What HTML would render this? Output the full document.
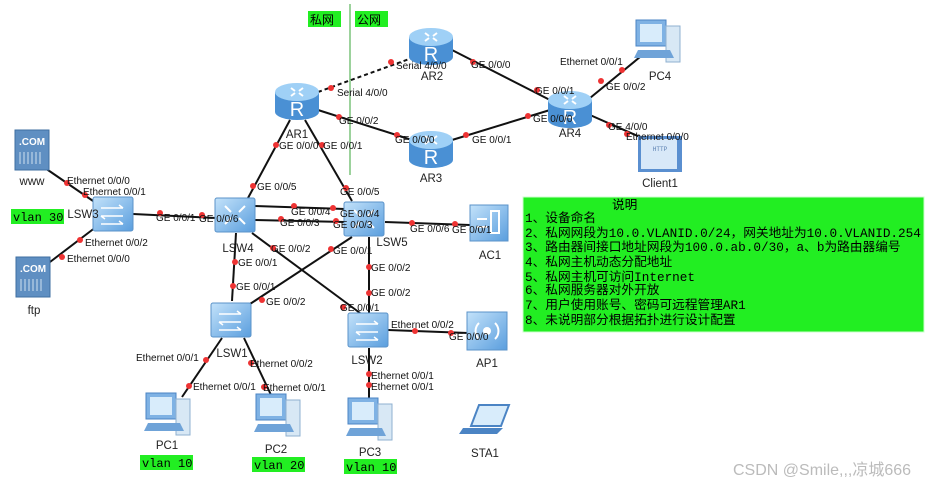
<!DOCTYPE html>
<html><head><meta charset="utf-8"><style>
html,body{margin:0;padding:0;background:#fff;}
svg{display:block;}
.l{font-family:"Liberation Sans",sans-serif;font-size:10px;fill:#111;}
.n{font-family:"Liberation Sans",sans-serif;font-size:11.5px;fill:#222;}
.m{font-family:"Liberation Mono","Noto Sans CJK SC",monospace;font-size:12px;fill:#000;}
.mn{font-family:"Liberation Mono","Noto Sans CJK SC",monospace;font-size:12.7px;fill:#000;}
</style></head><body>
<svg width="931" height="484" viewBox="0 0 931 484" xmlns="http://www.w3.org/2000/svg">
<defs>
<linearGradient id="sg" x1="0" y1="0" x2="1" y2="1"><stop offset="0" stop-color="#c3e2fa"/><stop offset="1" stop-color="#5a9ede"/></linearGradient>
<g id="router">
<path d="M-22,-8 L-22,12 A22,8 0 0 0 22,12 L22,-8 Z" fill="#4a90d4"/>
<ellipse cx="0" cy="-8" rx="22" ry="9" fill="#9fd0f6"/>
<text x="0" y="16" text-anchor="middle" font-family="Liberation Sans" font-size="20" fill="#fff">R</text>
<path d="M-6,-12 l4,3 M6,-12 l-4,3 M-6,-4 l4,-3 M6,-4 l-4,-3" stroke="#fff" stroke-width="2"/>
</g>
<g id="sw">
<rect x="-20" y="-17" width="40" height="34" rx="2" fill="url(#sg)" stroke="#5b93c9"/>
<path d="M-12,-6 h22 M10,-6 l-4,-3 M-12,2 h22 M-12,2 l4,3 M-12,10 h22 M10,10 l-4,-3" stroke="#fff" stroke-width="1.5" fill="none"/>
</g>
<g id="csw">
<rect x="-20" y="-17" width="40" height="34" rx="2" fill="url(#sg)" stroke="#5b93c9"/>
<path d="M-10,-9 l6,6 M10,-9 l-6,6 M-10,9 l6,-6 M10,9 l-6,-6" stroke="#fff" stroke-width="2"/>
</g>
<g id="pc">
<rect x="-24" y="-22" width="30" height="26" fill="#7fb2e4" stroke="#4b84c4"/>
<rect x="-20" y="-18" width="22" height="18" fill="#d8ecfb"/>
<rect x="6" y="-16" width="14" height="36" fill="#d8e8f5" stroke="#8fb0d0"/>
<path d="M-26,16 L14,16 L10,8 L-22,8 Z" fill="#6fa3d8"/>
</g>
<g id="srv">
<rect x="-17" y="-20" width="34" height="40" fill="#5f8fc2" stroke="#3f6fa2"/>
<text x="0" y="-5" text-anchor="middle" font-family="Liberation Sans" font-weight="bold" font-size="10" fill="#fff">.COM</text>
<path d="M-12,2 v12 M-8,2 v12 M-4,2 v12 M0,2 v12 M4,2 v12 M8,2 v12" stroke="#cfe0f0"/>
</g>
</defs>

<line x1="350" y1="4" x2="350" y2="175" stroke="#3aa53a" stroke-width="1"/>
<rect x="308" y="11" width="33" height="16" fill="#22ee22"/>
<text x="310" y="24" font-family="Noto Sans CJK SC,sans-serif" font-size="12">私网</text>
<rect x="355" y="11" width="33" height="16" fill="#22ee22"/>
<text x="357" y="24" font-family="Noto Sans CJK SC,sans-serif" font-size="12">公网</text>

<g stroke="#111" stroke-width="2" fill="none">
<line x1="318" y1="92" x2="412" y2="58" stroke-dasharray="4,3"/>
<line x1="318" y1="110" x2="412" y2="140"/>
<line x1="452" y1="50" x2="550" y2="100"/>
<line x1="452" y1="140" x2="550" y2="110"/>
<line x1="590" y1="98" x2="640" y2="57"/>
<line x1="590" y1="115" x2="640" y2="137"/>
<line x1="290" y1="120" x2="248" y2="198"/>
<line x1="305" y1="120" x2="352" y2="201"/>
<line x1="45" y1="168" x2="96" y2="203"/>
<line x1="50" y1="262" x2="96" y2="227"/>
<line x1="133" y1="214" x2="216" y2="218"/>
<line x1="255" y1="206" x2="345" y2="209"/>
<line x1="255" y1="220" x2="345" y2="222"/>
<line x1="385" y1="222" x2="470" y2="225"/>
<line x1="236" y1="233" x2="232" y2="301"/>
<line x1="252" y1="233" x2="360" y2="313"/>
<line x1="352" y1="237" x2="250" y2="304"/>
<line x1="369" y1="237" x2="369" y2="313"/>
<line x1="222" y1="338" x2="182" y2="397"/>
<line x1="244" y1="338" x2="272" y2="397"/>
<line x1="369" y1="348" x2="369" y2="400"/>
<line x1="388" y1="330" x2="468" y2="333"/>
</g>
<g fill="#ee3333">
<circle cx="331" cy="88" r="3"/><circle cx="391" cy="62" r="3"/>
<circle cx="339" cy="117" r="3"/><circle cx="397" cy="135" r="3"/>
<circle cx="473" cy="62" r="3"/><circle cx="537" cy="90" r="3"/>
<circle cx="466" cy="135" r="3"/><circle cx="528" cy="116" r="3"/>
<circle cx="601" cy="81" r="3"/><circle cx="622" cy="70" r="3"/>
<circle cx="609" cy="125" r="3"/><circle cx="627" cy="134" r="3"/>
<circle cx="276" cy="145" r="3"/><circle cx="322" cy="145" r="3"/>
<circle cx="253" cy="186" r="3"/><circle cx="346" cy="188" r="3"/>
<circle cx="67" cy="183" r="3"/><circle cx="85" cy="195" r="3"/>
<circle cx="80" cy="240" r="3"/><circle cx="62" cy="257" r="3"/>
<circle cx="160" cy="213" r="3"/><circle cx="202" cy="215" r="3"/>
<circle cx="294" cy="206" r="3"/><circle cx="333" cy="208" r="3"/>
<circle cx="281" cy="219" r="3"/><circle cx="336" cy="221" r="3"/>
<circle cx="412" cy="223" r="3"/><circle cx="455" cy="224" r="3"/>
<circle cx="235" cy="262" r="3"/><circle cx="233" cy="286" r="3"/>
<circle cx="273" cy="248" r="3"/><circle cx="343" cy="307" r="3"/>
<circle cx="331" cy="249" r="3"/><circle cx="262" cy="300" r="3"/>
<circle cx="369" cy="267" r="3"/><circle cx="369" cy="293" r="3"/>
<circle cx="206" cy="360" r="3"/><circle cx="189" cy="386" r="3"/>
<circle cx="251" cy="363" r="3"/><circle cx="264" cy="387" r="3"/>
<circle cx="369" cy="374" r="3"/><circle cx="369" cy="385" r="3"/>
<circle cx="415" cy="331" r="3"/><circle cx="451" cy="333" r="3"/>
</g>

<use href="#router" x="297" y="100"/>
<use href="#router" x="431" y="45"/>
<use href="#router" x="431" y="148"/>
<use href="#router" x="570" y="108"/>
<use href="#pc" x="660" y="42"/>
<g transform="translate(660,154)"><path d="M-22,-18 L22,-18 L22,18 L-22,18 Z" fill="#5a8fd0"/><rect x="-19" y="-15" width="36" height="30" fill="#d8e8f8"/><text x="0" y="-3" text-anchor="middle" font-family="Liberation Mono" font-size="6" fill="#5a7fb0">HTTP</text></g>
<use href="#srv" x="32" y="150"/>
<use href="#srv" x="33" y="277"/>
<use href="#sw" x="113" y="214"/>
<use href="#csw" x="235" y="215"/>
<use href="#csw" x="364" y="219"/>
<g transform="translate(489,223)"><rect x="-19" y="-18" width="38" height="36" fill="url(#sg)" stroke="#5b93c9"/><rect x="2" y="-12" width="8" height="22" fill="none" stroke="#fff" stroke-width="2"/><path d="M-12,-4 h10 M-12,4 h10" stroke="#fff" stroke-width="2"/></g>
<use href="#sw" x="231" y="320"/>
<use href="#sw" x="368" y="330"/>
<g transform="translate(487,331)"><rect x="-20" y="-19" width="40" height="38" fill="url(#sg)" stroke="#5b93c9"/><circle cx="0" cy="0" r="4" fill="#fff"/><path d="M-8,-8 a11,11 0 0 0 0,16 M8,-8 a11,11 0 0 1 0,16" stroke="#fff" stroke-width="2" fill="none"/></g>
<use href="#pc" x="170" y="415"/>
<use href="#pc" x="280" y="416"/>
<use href="#pc" x="372" y="420"/>
<g transform="translate(485,420)"><path d="M-6,-15 L24,-15 L16,6 L-14,6 Z" fill="#d8ecfb" stroke="#4b84c4" stroke-width="2"/><path d="M-22,8 L18,8 L12,14 L-26,14 Z" fill="#4b84c4"/></g>

<g class="n" text-anchor="middle">
<text x="297" y="138">AR1</text><text x="432" y="80">AR2</text><text x="431" y="182">AR3</text><text x="570" y="137">AR4</text>
<text x="660" y="80">PC4</text><text x="660" y="187">Client1</text>
<text x="32" y="185">www</text><text x="34" y="314">ftp</text>
<text x="83" y="218">LSW3</text><text x="238" y="252">LSW4</text><text x="392" y="246">LSW5</text><text x="490" y="259">AC1</text>
<text x="232" y="357">LSW1</text><text x="367" y="364">LSW2</text><text x="487" y="367">AP1</text>
<text x="167" y="449">PC1</text><text x="276" y="453">PC2</text><text x="370" y="456">PC3</text><text x="485" y="457">STA1</text>
</g>

<g class="l">
<text x="337" y="96">Serial 4/0/0</text><text x="396" y="69">Serial 4/0/0</text>
<text x="339" y="124">GE 0/0/2</text><text x="395" y="143">GE 0/0/0</text>
<text x="471" y="68">GE 0/0/0</text><text x="535" y="94">GE 0/0/1</text>
<text x="472" y="143">GE 0/0/1</text><text x="533" y="122">GE 0/0/0</text>
<text x="560" y="65">Ethernet 0/0/1</text><text x="606" y="90">GE 0/0/2</text>
<text x="608" y="130">GE 4/0/0</text><text x="626" y="140">Ethernet 0/0/0</text>
<text x="279" y="149">GE 0/0/0</text><text x="323" y="149">GE 0/0/1</text>
<text x="257" y="190">GE 0/0/5</text><text x="340" y="195">GE 0/0/5</text>
<text x="67" y="184">Ethernet 0/0/0</text><text x="83" y="195">Ethernet 0/0/1</text>
<text x="85" y="246">Ethernet 0/0/2</text><text x="67" y="262">Ethernet 0/0/0</text>
<text x="156" y="221">GE 0/0/1</text><text x="199" y="222">GE 0/0/6</text>
<text x="291" y="215">GE 0/0/4</text><text x="340" y="217">GE 0/0/4</text>
<text x="280" y="226">GE 0/0/3</text><text x="333" y="228">GE 0/0/3</text>
<text x="410" y="232">GE 0/0/6</text><text x="452" y="233">GE 0/0/1</text>
<text x="238" y="266">GE 0/0/1</text><text x="236" y="290">GE 0/0/1</text>
<text x="271" y="252">GE 0/0/2</text><text x="333" y="254">GE 0/0/1</text>
<text x="266" y="305">GE 0/0/2</text><text x="340" y="311">GE 0/0/1</text>
<text x="371" y="271">GE 0/0/2</text><text x="371" y="296">GE 0/0/2</text>
<text x="136" y="361">Ethernet 0/0/1</text><text x="193" y="390">Ethernet 0/0/1</text>
<text x="250" y="367">Ethernet 0/0/2</text><text x="263" y="391">Ethernet 0/0/1</text>
<text x="371" y="379">Ethernet 0/0/1</text><text x="371" y="390">Ethernet 0/0/1</text>
<text x="391" y="328">Ethernet 0/0/2</text><text x="449" y="340">GE 0/0/0</text>
</g>

<g>
<rect x="11" y="209" width="53" height="15" fill="#22ee22"/><text class="m" x="13" y="221">vlan 30</text>
<rect x="140" y="455" width="53" height="15" fill="#22ee22"/><text class="m" x="142" y="467">vlan 10</text>
<rect x="252" y="457" width="53" height="15" fill="#22ee22"/><text class="m" x="254" y="469">vlan 20</text>
<rect x="344" y="459" width="53" height="15" fill="#22ee22"/><text class="m" x="346" y="471">vlan 10</text>
</g>

<rect x="523" y="197" width="401" height="135" fill="#22ee22" stroke="#cfc" />
<g class="mn">
<text x="612" y="209">说明</text>
<text x="525" y="222">1、设备命名</text>
<text x="525" y="237">2、私网网段为10.0.VLANID.0/24，网关地址为10.0.VLANID.254</text>
<text x="525" y="251">3、路由器间接口地址网段为100.0.ab.0/30，a、b为路由器编号</text>
<text x="525" y="266">4、私网主机动态分配地址</text>
<text x="525" y="281">5、私网主机可访问Internet</text>
<text x="525" y="294">6、私网服务器对外开放</text>
<text x="525" y="309">7、用户使用账号、密码可远程管理AR1</text>
<text x="525" y="324">8、未说明部分根据拓扑进行设计配置</text>
</g>

<text x="733" y="475" font-family="Liberation Sans,Noto Sans CJK SC,sans-serif" font-size="16" fill="#bbb">CSDN @Smile,,,凉城666</text>
</svg>
</body></html>
